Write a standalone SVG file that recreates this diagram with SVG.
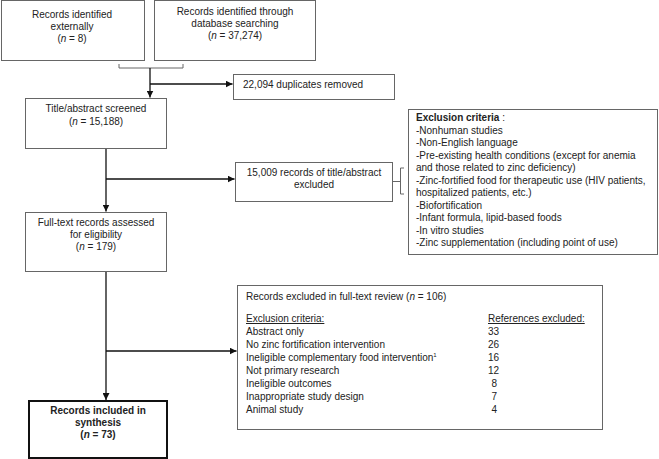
<svg xmlns="http://www.w3.org/2000/svg" width="659" height="459" viewBox="0 0 659 459">
<defs>
<style>
text{font-family:"Liberation Sans",Arial,sans-serif;font-size:10px;fill:#222}
.c{text-anchor:middle}
.e{text-anchor:end}
.b{font-weight:bold}
.box{fill:#fff;stroke:#666;stroke-width:1}
.thick{fill:#fff;stroke:#111;stroke-width:2}
.ln{fill:none;stroke:#111;stroke-width:1.3}
.br{fill:none;stroke:#666;stroke-width:1}
</style>
<marker id="ah" viewBox="0 0 10 10" refX="10" refY="5" markerWidth="7" markerHeight="7" markerUnits="userSpaceOnUse" orient="auto"><path d="M0,0L10,5L0,10z" fill="#111"/></marker>
</defs>
<rect width="659" height="459" fill="#fff"/>
<g id="connectors">
<path class="br" d="M119,64V68H183V64"/>
<path class="ln" d="M150,68V97.5" marker-end="url(#ah)"/>
<path class="ln" d="M150,84H232.5" marker-end="url(#ah)"/>
<path class="ln" d="M106,149V211.5" marker-end="url(#ah)"/>
<path class="ln" d="M106,179H234.5" marker-end="url(#ah)"/>
<path class="ln" d="M106,271V400" marker-end="url(#ah)"/>
<path class="ln" d="M106,351H236.5" marker-end="url(#ah)"/>
<path class="br" d="M404,168H400.5V194H404M393,181.5H400.5"/>
</g>
<g id="n1">
<rect class="box" x="1.5" y="0.5" width="143" height="60"/>
<text class="c" x="72" y="18">Records identified</text>
<text class="c" x="72" y="30">externally</text>
<text class="c" x="72" y="42">(<tspan font-style="italic">n</tspan> = 8)</text>
</g>
<g id="n2">
<rect class="box" x="154.5" y="0.5" width="161" height="60"/>
<text class="c" x="235" y="15">Records identified through</text>
<text class="c" x="235" y="27">database searching</text>
<text class="c" x="235" y="39">(<tspan font-style="italic">n</tspan> = 37,274)</text>
</g>
<g id="n3">
<rect class="box" x="233.5" y="74.5" width="161" height="25"/>
<text x="243" y="87.5">22,094 duplicates removed</text>
</g>
<g id="n4">
<rect class="box" x="25.5" y="98.5" width="141" height="50"/>
<text class="c" x="96" y="112">Title/abstract screened</text>
<text class="c" x="96" y="125">(<tspan font-style="italic">n</tspan> = 15,188)</text>
</g>
<g id="n5">
<rect class="box" x="235.5" y="162.5" width="157" height="39"/>
<text class="c" x="314" y="176">15,009 records of title/abstract</text>
<text class="c" x="314" y="188">excluded</text>
</g>
<g id="n6">
<rect class="box" x="408.5" y="109.5" width="249" height="145"/>
<text x="416" y="121"><tspan class="b">Exclusion criteria</tspan> :</text>
<text x="416" y="133.5">-Nonhuman studies</text>
<text x="416" y="146">-Non-English language</text>
<text x="416" y="158.5">-Pre-existing health conditions (except for anemia</text>
<text x="416" y="171">and those related to zinc deficiency)</text>
<text x="416" y="183.5">-Zinc-fortified food for therapeutic use (HIV patients,</text>
<text x="416" y="196">hospitalized patients, etc.)</text>
<text x="416" y="208.5">-Biofortification</text>
<text x="416" y="221">-Infant formula, lipid-based foods</text>
<text x="416" y="233.5">-In vitro studies</text>
<text x="416" y="246">-Zinc supplementation (including point of use)</text>
</g>
<g id="n7">
<rect class="box" x="25.5" y="212.5" width="141" height="59"/>
<text class="c" x="96" y="226">Full-text records assessed</text>
<text class="c" x="96" y="238">for eligibility</text>
<text class="c" x="96" y="250">(<tspan font-style="italic">n</tspan> = 179)</text>
</g>
<g id="n8">
<rect class="box" x="237.5" y="285.5" width="365" height="144"/>
<text x="246" y="300">Records excluded in full-text review (<tspan font-style="italic">n</tspan> = 106)</text>
<text x="246" y="322" text-decoration="underline">Exclusion criteria:</text>
<text x="488" y="322" text-decoration="underline">References excluded:</text>
<text x="246" y="335">Abstract only</text>
<text x="246" y="348">No zinc  fortification  intervention</text>
<text x="246" y="361">Ineligible complementary food intervention<tspan font-size="6" dy="-4">1</tspan></text>
<text x="246" y="374">Not primary research</text>
<text x="246" y="387">Ineligible outcomes</text>
<text x="246" y="400">Inappropriate study design</text>
<text x="246" y="413">Animal study</text>
<text class="e" x="499" y="335">33</text>
<text class="e" x="499" y="348">26</text>
<text class="e" x="499" y="361">16</text>
<text class="e" x="499" y="374">12</text>
<text class="e" x="497" y="387">8</text>
<text class="e" x="497" y="400">7</text>
<text class="e" x="497" y="413">4</text>
</g>
<g id="n9">
<rect class="thick" x="29" y="401" width="138" height="57"/>
<text class="c b" x="98" y="414">Records included in</text>
<text class="c b" x="98" y="426">synthesis</text>
<text class="c b" x="98" y="438">(<tspan font-style="italic">n</tspan> = 73)</text>
</g>
</svg>
